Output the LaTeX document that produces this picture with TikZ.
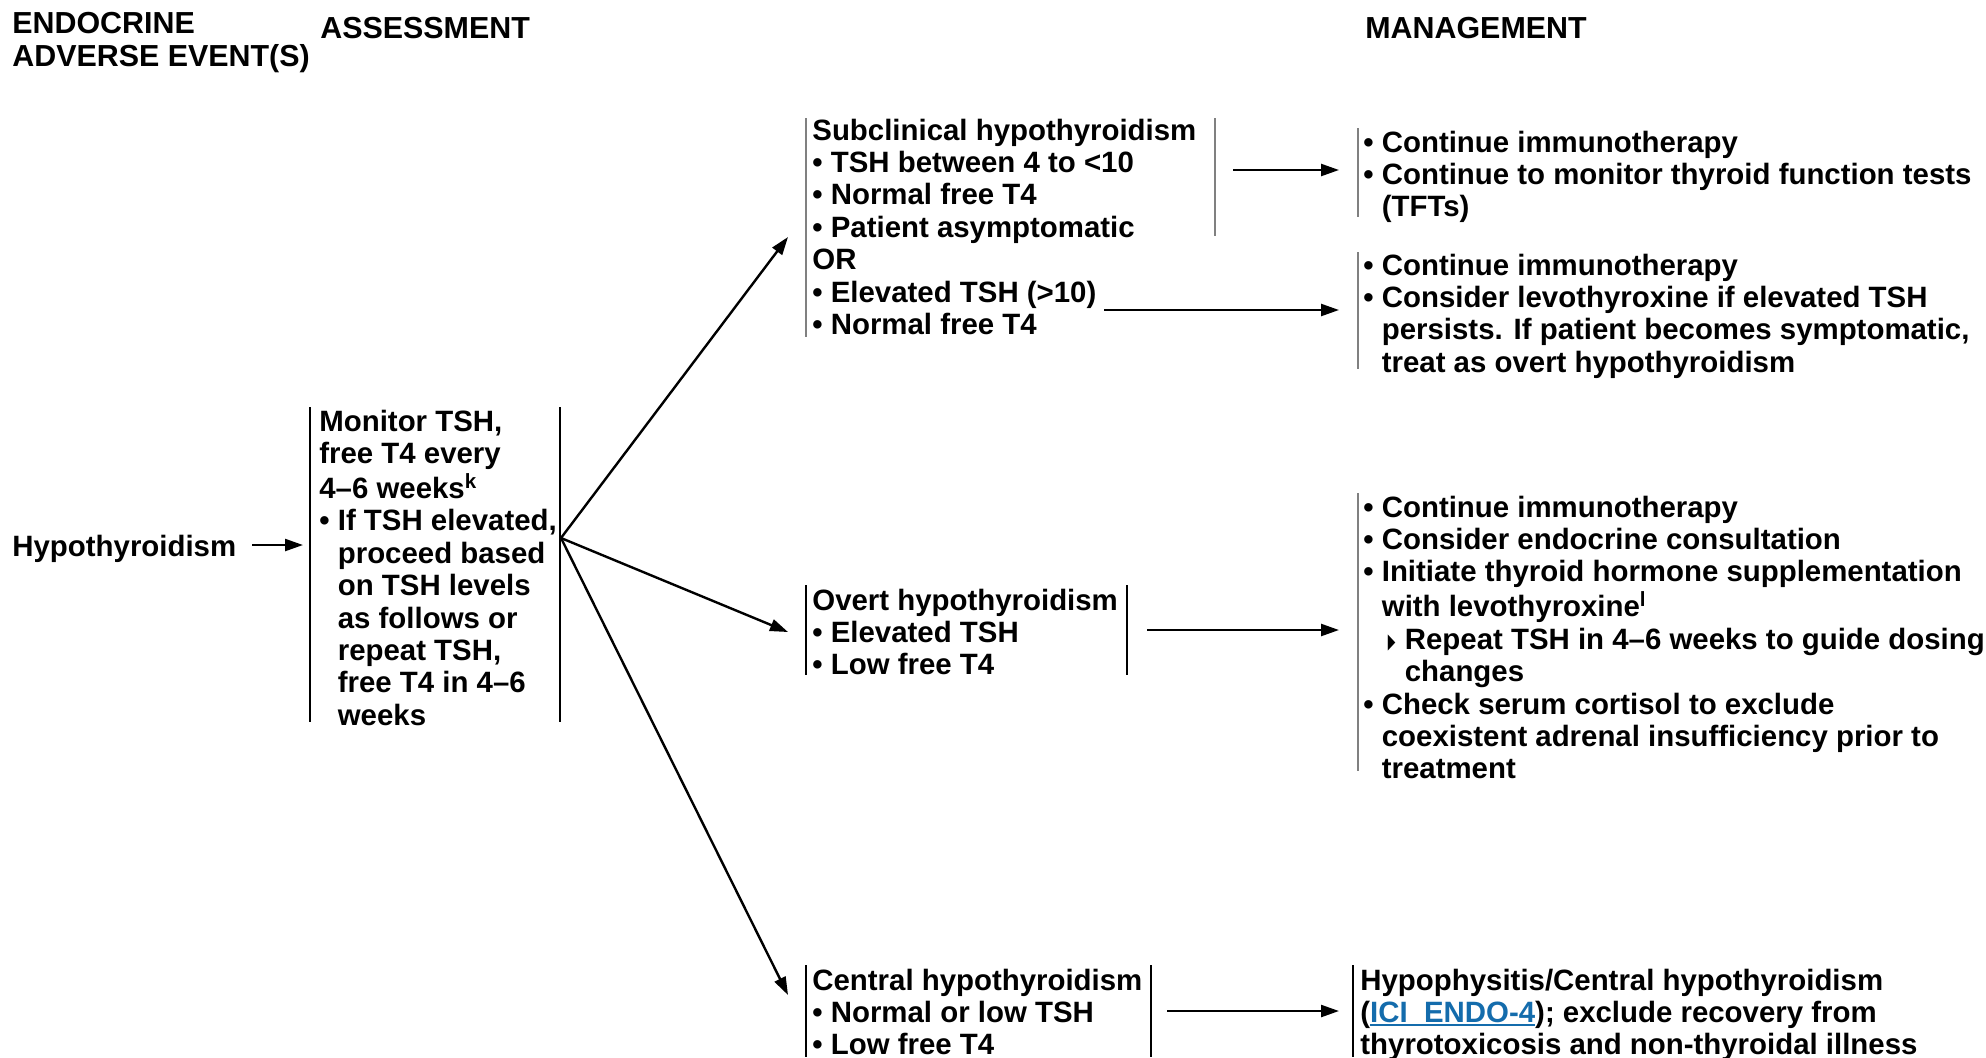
\documentclass[tikz,border=0pt]{standalone}
\usepackage{fontspec}
\setmainfont{Liberation Sans}
\newfontfamily\symfont{DejaVu Sans}
\usetikzlibrary{arrows.meta}

\definecolor{bargray}{RGB}{128,128,128}
\definecolor{linkblue}{RGB}{20,108,172}

% stacked lines of a text block, first baseline on the node's base
\newcommand{\lines}[1]{\begin{tabular}[t]{@{}l@{}}#1\end{tabular}}
% bullet and the hanging indent that follows it
\newcommand{\bul}{\textbullet\ }
\newcommand{\cin}{\phantom{\textbullet\ }}
% second-level bullet (narrow filled triangle) and its hanging indent
\newcommand{\subb}{\makebox[11.5pt][l]{\hspace{3pt}\raisebox{0.6pt}{\resizebox{3.8pt}{6.8pt}{\symfont ▶}}}}
\newcommand{\subind}{\hspace{11.5pt}}
% underlined cross-reference
\newsavebox\lnkbox
\newcommand{\lnk}[1]{\sbox\lnkbox{#1}\textcolor{linkblue}{\rlap{\rule[-1.7pt]{\wd\lnkbox}{0.9pt}}#1}}

\tikzset{
  txt/.style={inner sep=0pt, anchor=base west,
    font=\bfseries\fontsize{14.7}{16.2}\selectfont},
  head/.style={txt, font=\bfseries\fontsize{15.2}{16.5}\selectfont},
  blackbar/.style={draw=black, line width=1.1pt},
  graybar/.style={draw=bargray, line width=0.9pt},
  arr/.style={draw=black, line width=1.2pt,
    -{Triangle[length=9pt,width=6pt]}},
}

\begin{document}
\begin{tikzpicture}[x=0.5pt,y=-0.5pt]
\useasboundingbox (0,0) rectangle (1986,1057);

% column headings
\node[head] (hEvent) at (12,33) {\lines{ENDOCRINE\\ADVERSE EVENT(S)}};
\node[head] (hAssess) at (320,38) {ASSESSMENT};
\node[head] (hManage) at (1365,38) {MANAGEMENT};

% adverse event
\node[txt] (hypo) at (12,556) {Hypothyroidism};

% assessment
\node[txt] (mon) at (319,431) {\lines{Monitor TSH,\\free T4 every\\4–6 weeks\textsuperscript{k}\\\bul If TSH elevated,\\\cin proceed based\\\cin on TSH levels\\\cin as follows or\\\cin repeat TSH,\\\cin free T4 in 4–6\\\cin weeks}};
\draw[blackbar] (310,407) -- (310,722);
\draw[blackbar] (560,407) -- (560,722);

% subclinical hypothyroidism
\node[txt] (sub) at (812,140) {\lines{Subclinical hypothyroidism\\\bul TSH between 4 to <10\\\bul Normal free T4\\\bul Patient asymptomatic\\OR\\\bul Elevated TSH (>10)\\\bul Normal free T4}};
\draw[graybar] (806,118) -- (806,337);
\draw[graybar] (1215,118) -- (1215,236);

% overt hypothyroidism
\node[txt] (overt) at (812,610) {\lines{Overt hypothyroidism\\\bul Elevated TSH\\\bul Low free T4}};
\draw[blackbar] (806,585) -- (806,675);
\draw[blackbar] (1127,585) -- (1127,675);

% central hypothyroidism
\node[txt] (central) at (812,990) {\lines{Central hypothyroidism\\\bul Normal or low TSH\\\bul Low free T4}};
\draw[blackbar] (806,965) -- (806,1057);
\draw[blackbar] (1151,965) -- (1151,1057);

% management
\node[txt] (m1) at (1363,152) {\lines{\bul Continue immunotherapy\\\bul Continue to monitor thyroid function tests\\\cin (TFTs)}};
\draw[graybar] (1358,128) -- (1358,217);

\node[txt] (m2) at (1363,275) {\lines{\bul Continue immunotherapy\\\bul Consider levothyroxine if elevated TSH\\\cin persists. If patient becomes symptomatic,\\\cin treat as overt hypothyroidism}};
\draw[graybar] (1358,252) -- (1358,369);

\node[txt] (m3) at (1363,517) {\lines{\bul Continue immunotherapy\\\bul Consider endocrine consultation\\\bul Initiate thyroid hormone supplementation\\\cin with levothyroxine\textsuperscript{l}\\\cin\subb Repeat TSH in 4–6 weeks to guide dosing\\\cin\subind changes\\\bul Check serum cortisol to exclude\\\cin coexistent adrenal insufficiency prior to\\\cin treatment}};
\draw[graybar] (1358,493) -- (1358,771);

\node[txt] (m4) at (1360,990) {\lines{Hypophysitis/Central hypothyroidism\\(\lnk{ICI\_ENDO-4}); exclude recovery from\\thyrotoxicosis and non-thyroidal illness}};
\draw[blackbar] (1353,965) -- (1353,1057);

% connector end points
\coordinate (hypoOut) at (252,545);
\coordinate (monIn) at (303,545);
\coordinate (fan) at (561,538);
\coordinate (subIn) at (788,237);
\coordinate (overtIn) at (788,632);
\coordinate (centralIn) at (788,995);
\coordinate (subOutA) at (1233,170);
\coordinate (m1In) at (1339,170);
\coordinate (subOutB) at (1104,310);
\coordinate (m2In) at (1339,310);
\coordinate (overtOut) at (1147,630);
\coordinate (m3In) at (1339,630);
\coordinate (centralOut) at (1167,1011);
\coordinate (m4In) at (1339,1011);

% connectors
\draw[arr] (hypoOut) -- (monIn);
\draw[arr] (fan) -- (subIn);
\draw[arr] (fan) -- (overtIn);
\draw[arr] (fan) -- (centralIn);
\draw[arr] (subOutA) -- (m1In);
\draw[arr] (subOutB) -- (m2In);
\draw[arr] (overtOut) -- (m3In);
\draw[arr] (centralOut) -- (m4In);
\end{tikzpicture}
\end{document}
